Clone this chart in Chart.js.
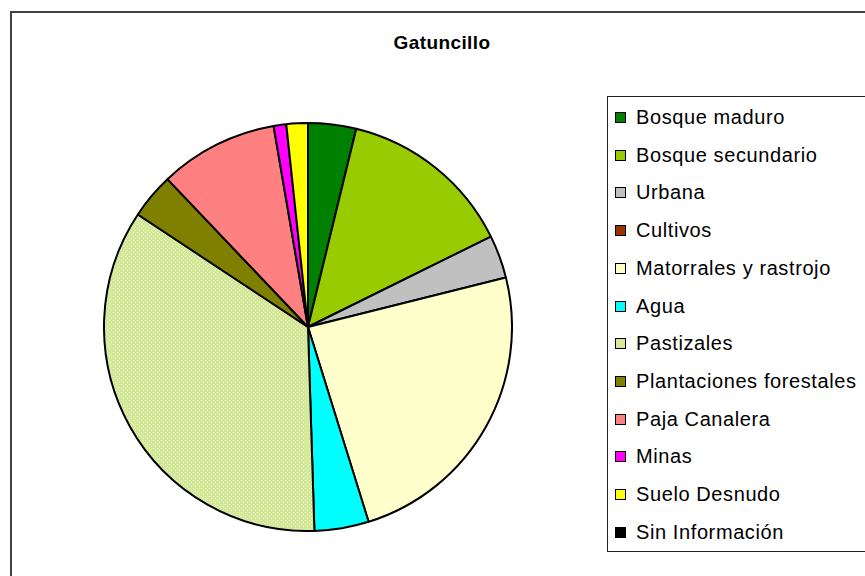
<!DOCTYPE html>
<html>
<head>
<meta charset="utf-8">
<script src="https://cdn.jsdelivr.net/npm/chart.js@4/dist/chart.umd.min.js"></script>
<style>
  body { margin: 0; width: 865px; height: 576px; overflow: hidden; background: #fff; position: relative; font-family: "Liberation Sans", Arial, sans-serif; }
  #frame { position: absolute; left: 10px; top: 11px; width: 900px; height: 600px; border: 2px solid #404040; box-sizing: border-box; }
  #title { position: absolute; left: 342px; width: 200px; top: 32px; text-align: center; font-weight: bold; font-size: 19px; letter-spacing: 0.4px; color: #000; }
  #pie { position: absolute; left: 103px; top: 122px; }
  #legend { position: absolute; left: 607px; top: 96px; width: 300px; height: 456px; border: 1px solid #222; box-sizing: border-box; }
  .item { position: absolute; left: 0; height: 20px; line-height: 20px; font-size: 20px; letter-spacing: 0.6px; color: #000; white-space: nowrap; }
  .item span.box { position: absolute; left: 7px; top: 4px; width: 11px; height: 11px; border: 1px solid #000; box-sizing: border-box; }
  .item span.txt { position: absolute; left: 28px; top: -1px; }
</style>
</head>
<body>
<div id="frame"></div>
<div id="title">Gatuncillo</div>
<canvas id="pie" width="410" height="410"></canvas>
<div id="legend"></div>
<script>
  // Gatuncillo land cover (%)
  const categories = ['Bosque maduro', 'Bosque secundario', 'Urbana', 'Cultivos', 'Matorrales y rastrojo', 'Agua',
    'Pastizales', 'Plantaciones forestales', 'Paja Canalera', 'Minas', 'Suelo Desnudo', 'Sin Información'];
  const values = [3.8, 13.9, 3.4, 0, 24.1, 4.3, 34.8, 3.6, 9.4, 1.0, 1.7, 0];
  const colors = ['#008000', '#99cc00', '#c0c0c0', '#993300', '#ffffcc', '#00ffff',
    '#d6e99d', '#808000', '#ff8080', '#ff00ff', '#ffff00', '#000000'];

  // dotted fill for Pastizales
  function dotPattern(base, dot) {
    const c = document.createElement('canvas');
    c.width = 4; c.height = 4;
    const g = c.getContext('2d');
    g.fillStyle = base;
    g.fillRect(0, 0, 4, 4);
    g.fillStyle = dot;
    g.fillRect(0, 0, 1, 1);
    g.fillRect(2, 2, 1, 1);
    return g.createPattern(c, 'repeat');
  }

  const fills = colors.slice();
  fills[6] = dotPattern('#d4e89a', '#e9f4c4');

  new Chart(document.getElementById('pie'), {
    type: 'pie',
    data: {
      labels: categories,
      datasets: [{
        data: values,
        backgroundColor: fills,
        borderColor: '#000',
        borderWidth: 2
      }]
    },
    options: {
      responsive: false,
      animation: false,
      layout: { padding: 0 },
      plugins: {
        legend: { display: false },
        tooltip: { enabled: false }
      }
    }
  });

  // legend box on the right
  const legend = document.getElementById('legend');
  categories.forEach((name, i) => {
    const row = document.createElement('div');
    row.className = 'item';
    row.style.top = (11 + i * 37.7) + 'px';
    const box = document.createElement('span');
    box.className = 'box';
    box.style.background = colors[i];
    const txt = document.createElement('span');
    txt.className = 'txt';
    txt.textContent = name;
    row.appendChild(box);
    row.appendChild(txt);
    legend.appendChild(row);
  });
</script>
</body>
</html>
